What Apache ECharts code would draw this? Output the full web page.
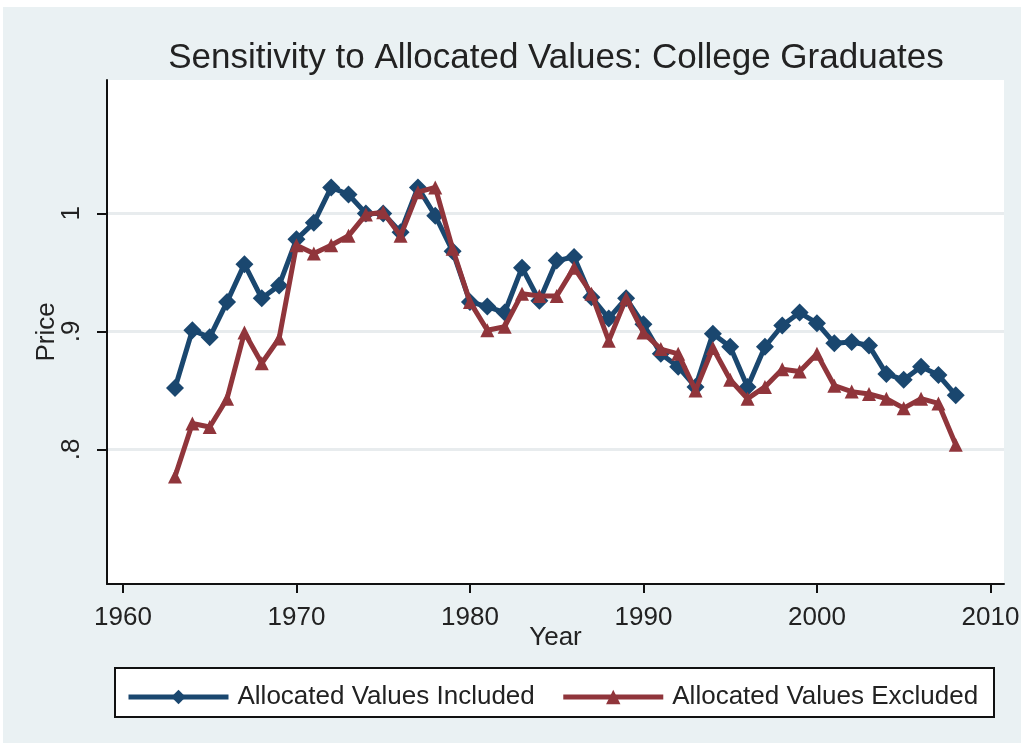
<!DOCTYPE html>
<html>
<head>
<meta charset="utf-8">
<script src="https://cdn.jsdelivr.net/npm/echarts@6/dist/echarts.min.js"></script>
<style>
  html, body { margin: 0; padding: 0; background: #fff; }
  #main { width: 1026px; height: 748px; }
</style>
</head>
<body>
<div id="main"></div>
<script>
// years 1963 - 2008
const years = []
for (let y = 1963; y <= 2008; y++) years.push(y)

// price index, allocated values included
const included = [
  0.852, 0.901, 0.895, 0.925, 0.957, 0.928, 0.939, 0.978, 0.992, 1.022,
  1.016, 1.000, 1.000, 0.984, 1.022, 0.998, 0.968, 0.925, 0.921, 0.916,
  0.954, 0.926, 0.960, 0.963, 0.929, 0.911, 0.928, 0.906, 0.881, 0.870,
  0.853, 0.898, 0.887, 0.853, 0.887, 0.905, 0.916, 0.907, 0.890, 0.891,
  0.888, 0.864, 0.859, 0.870, 0.863, 0.846
]

// price index, allocated values excluded
const excluded = [
  0.777, 0.822, 0.819, 0.843, 0.899, 0.873, 0.894, 0.973, 0.966, 0.973,
  0.981, 0.999, 1.001, 0.981, 1.018, 1.022, 0.970, 0.925, 0.901, 0.904,
  0.932, 0.930, 0.930, 0.954, 0.932, 0.892, 0.928, 0.899, 0.885, 0.881,
  0.850, 0.886, 0.859, 0.843, 0.853, 0.868, 0.866, 0.881, 0.854, 0.849,
  0.847, 0.843, 0.835, 0.843, 0.839, 0.804
]

const xTicks = [1960, 1970, 1980, 1990, 2000, 2010]
const yTicks = [0.8, 0.9, 1.0]
const yTickLabels = { 0.8: '.8', 0.9: '.9', 1: '1' }

const seriesNames = ['Allocated Values Included', 'Allocated Values Excluded']

const chart = echarts.init(document.getElementById('main'))

const toPairs = arr => arr.map((v, i) => [years[i], v])

const option = {
  backgroundColor: '#fff',
  animation: false,
  textStyle: { fontFamily: 'Liberation Sans, Arial, sans-serif' },
  title: {
    text: 'Sensitivity to Allocated Values: College Graduates',
    left: 551,
    textAlign: 'center',
    top: 36,
    textStyle: { fontSize: 35, fontWeight: 'normal', color: '#222' }
  },
  graphic: [
    {
      type: 'rect',
      z: -10,
      silent: true,
      shape: { x: 3, y: 7, width: 1018, height: 736 },
      style: { fill: '#eaf1f3' }
    },
    {
      // legend box
      type: 'rect',
      z: -5,
      silent: true,
      shape: { x: 115, y: 668, width: 879, height: 49 },
      style: { fill: '#fff', stroke: '#111', lineWidth: 2 }
    }
  ],
  legend: {
    left: 121,
    top: 679,
    width: 900,
    itemWidth: 100,
    itemHeight: 18,
    itemGap: 26,
    data: seriesNames,
    lineStyle: { width: 5 },
    textStyle: {
      fontSize: 26,
      color: '#222',
      padding: [0, 0, 0, 4]
    }
  },
  grid: {
    left: 107,
    right: 22,
    top: 80,
    bottom: 164,
    show: true,
    backgroundColor: '#fff',
    borderWidth: 0
  },
  xAxis: {
    type: 'value',
    min: 1959.08,
    max: 2010.78,
    name: 'Year',
    nameLocation: 'middle',
    nameGap: 41,
    nameMoveOverlap: false,
    nameTextStyle: { fontSize: 26, color: '#222' },
    axisLine: { onZero: false, lineStyle: { color: '#111', width: 2 } },
    axisTick: { show: true, length: 9, customValues: xTicks, lineStyle: { color: '#111', width: 2 } },
    axisLabel: {
      customValues: xTicks,
      fontSize: 26,
      color: '#222',
      margin: 21,
      formatter: v => String(v)
    },
    splitLine: { show: false }
  },
  yAxis: {
    type: 'value',
    min: 0.686,
    max: 1.113,
    name: 'Price',
    nameLocation: 'middle',
    nameGap: 47,
    nameMoveOverlap: false,
    nameRotate: 90,
    nameTextStyle: { fontSize: 26, color: '#222' },
    axisLine: { show: true, onZero: false, lineStyle: { color: '#111', width: 2 } },
    axisTick: { show: true, length: 10, customValues: yTicks, lineStyle: { color: '#111', width: 2 } },
    axisLabel: {
      customValues: yTicks,
      rotate: 90,
      fontSize: 26,
      color: '#222',
      margin: 22,
      formatter: v => yTickLabels[Math.round(v * 10) / 10] || String(v)
    },
    splitLine: { show: true, lineStyle: { color: '#e8ecee', width: 3 } }
  },
  series: [
    {
      name: seriesNames[0],
      type: 'line',
      data: toPairs(included),
      symbol: 'diamond',
      symbolSize: 18,
      color: '#1a476f',
      lineStyle: { width: 5, color: '#1a476f' },
      itemStyle: { color: '#1a476f' },
      z: 2
    },
    {
      name: seriesNames[1],
      type: 'line',
      data: toPairs(excluded),
      symbol: 'triangle',
      symbolSize: 14,
      color: '#90353b',
      lineStyle: { width: 5, color: '#90353b' },
      itemStyle: { color: '#90353b' },
      z: 3
    }
  ]
}

option && chart.setOption(option)
</script>
</body>
</html>
